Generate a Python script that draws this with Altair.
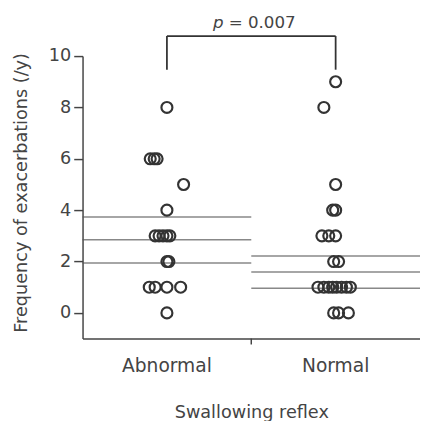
import altair as alt
import pandas as pd

groups = ["Abnormal", "Normal"]

abnormal_values = [8, 6, 6, 6, 5, 4, 3, 3, 3, 3, 3, 2, 2, 1, 1, 1, 1, 0]
abnormal_offsets = [0, -17, -13, -10, 17, 0, -12, -8, -4, 0, 3, 0, 2, -18, -12, 0, 14, 0]

normal_values = [9, 8, 5, 4, 4, 3, 3, 3, 2, 2, 1, 1, 1, 1, 1, 1, 1, 1, 0, 0, 0]
normal_offsets = [0, -12, 0, -3, 0, -14, -7, 0, -2, 3, -18, -12, -7, -3, 1, 6, 11, 15, -2, 3, 13]

abnormal_stats = [3.73, 2.85, 1.94]
normal_stats = [2.22, 1.59, 0.96]

p_label = "= 0.007"
bracket_top = 10.78
bracket_bottom = 9.47

FONT = "DejaVu Sans"
INK = "#333333"
AXIS = "#444444"

points = pd.DataFrame({
    "group": [groups[0]] * len(abnormal_values) + [groups[1]] * len(normal_values),
    "value": abnormal_values + normal_values,
    "offset": abnormal_offsets + normal_offsets,
})
stats = pd.DataFrame({
    "group": [groups[0]] * len(abnormal_stats) + [groups[1]] * len(normal_stats),
    "value": abnormal_stats + normal_stats,
})

xscale = alt.Scale(domain=groups, paddingInner=0, paddingOuter=0)
yscale = alt.Scale(domain=[-1, 10], nice=False, zero=False)

xaxis = alt.Axis(title="Swallowing reflex", ticks=True, tickSize=0, labelAngle=0,
                 labelPadding=19, labelFontSize=19, titleFontSize=18,
                 titlePadding=28, labelColor=AXIS, titleColor=AXIS,
                 titleFontWeight="normal", domainColor=AXIS, domainWidth=1.5,
                 labelFont=FONT, titleFont=FONT)
yaxis = alt.Axis(title="Frequency of exacerbations (/y)", values=[0, 2, 4, 6, 8, 10],
                 grid=False, tickSize=9, tickColor=AXIS, tickWidth=1.5,
                 labelPadding=3, labelFontSize=18, titleFontSize=18,
                 labelColor=AXIS, titleColor=AXIS, titleFontWeight="normal",
                 domainColor=AXIS, domainWidth=1.5, titlePadding=18, titleY=139,
                 labelFont=FONT, titleFont=FONT)

pts = alt.Chart(points).mark_point(
    shape="circle", filled=False, size=125, strokeWidth=2.2, color=INK, opacity=1
).encode(
    x=alt.X("group:N", scale=xscale, sort=groups, axis=xaxis),
    xOffset=alt.XOffset("offset:Q", scale=alt.Scale(domain=[-86, 86])),
    y=alt.Y("value:Q", scale=yscale, axis=yaxis),
)

lines = alt.Chart(stats).mark_tick(size=172, thickness=1.5, color="#555555").encode(
    x=alt.X("group:N", scale=xscale, sort=groups, axis=xaxis),
    y=alt.Y("value:Q", scale=yscale, axis=yaxis),
)

bracket_h = alt.Chart().mark_rule(color=INK, strokeWidth=1.8).encode(
    x=alt.XDatum(groups[0], type="nominal"),
    x2=alt.X2Datum(groups[1]),
    y=alt.YDatum(bracket_top),
)
bracket_l = alt.Chart().mark_rule(color=INK, strokeWidth=1.8).encode(
    x=alt.XDatum(groups[0], type="nominal"),
    y=alt.YDatum(bracket_top),
    y2=alt.Y2Datum(bracket_bottom),
)
bracket_r = alt.Chart().mark_rule(color=INK, strokeWidth=1.8).encode(
    x=alt.XDatum(groups[1], type="nominal"),
    y=alt.YDatum(bracket_top),
    y2=alt.Y2Datum(bracket_bottom),
)

p_italic = alt.Chart().mark_text(
    text="p", fontStyle="italic", fontSize=17, font=FONT, color=AXIS,
    align="left", baseline="alphabetic", dx=-39,
).encode(
    x=alt.XDatum(groups[1], type="nominal", bandPosition=0),
    y=alt.YDatum(11.1),
)
p_rest = alt.Chart().mark_text(
    text=p_label, fontSize=17, font=FONT, color=AXIS,
    align="left", baseline="alphabetic", dx=-23,
).encode(
    x=alt.XDatum(groups[1], type="nominal", bandPosition=0),
    y=alt.YDatum(11.1),
)

mid_tick = alt.Chart().mark_rule(color=AXIS, strokeWidth=1.5).encode(
    x=alt.XDatum(groups[1], type="nominal", bandPosition=0),
    y=alt.value(288),
    y2=alt.value(294),
)

chart = alt.layer(
    lines, pts, bracket_h, bracket_l, bracket_r, p_italic, p_rest, mid_tick
).properties(
    width=344, height=288,
    padding={"left": 76, "top": 45, "right": 0, "bottom": 80},
    autosize=alt.AutoSizeParams(type="none"),
    background="white",
).configure_view(stroke=None).configure_axisX(labelPadding=19, tickSize=0)

chart.save("out.html", embed_options={"renderer": "svg", "actions": False})
